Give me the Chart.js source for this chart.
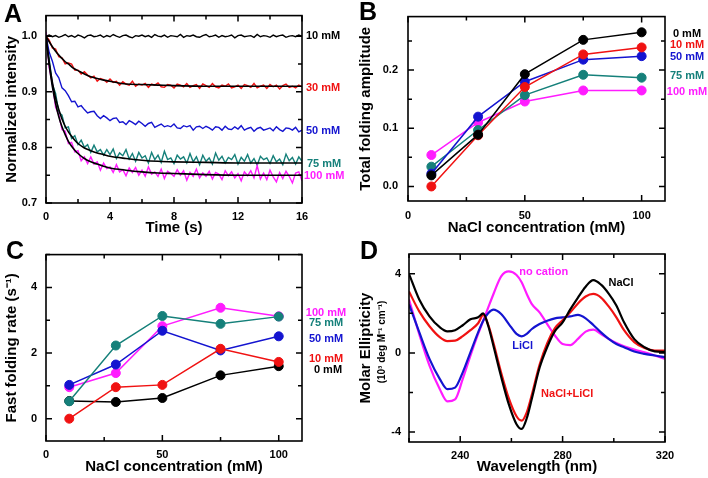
<!DOCTYPE html>
<html>
<head>
<meta charset="utf-8">
<script src="https://cdn.jsdelivr.net/npm/chart.js@4.4.1/dist/chart.umd.min.js"></script>
<style>
  body { margin: 0; background: #fff; }
  #wrap { position: relative; width: 708px; height: 478px; overflow: hidden; }
  canvas { position: absolute; }
</style>
</head>
<body>
<div id="wrap">
  <canvas id="chartA" width="354" height="239" style="left:0;top:0"></canvas>
  <canvas id="chartB" width="354" height="239" style="left:354px;top:0"></canvas>
  <canvas id="chartC" width="354" height="239" style="left:0;top:239px"></canvas>
  <canvas id="chartD" width="354" height="239" style="left:354px;top:239px"></canvas>
</div>
<script>
// ---- Panel A: stopped-flow traces (normalized intensity vs time) ----
const timeS = [0,0.2,0.4,0.6,0.8,1,1.2,1.4,1.6,1.8,2,2.2,2.4,2.6,2.8,3,3.2,3.4,3.6,3.8,
  4,4.2,4.4,4.6,4.8,5,5.2,5.4,5.6,5.8,6,6.2,6.4,6.6,6.8,7,7.2,7.4,7.6,7.8,
  8,8.2,8.4,8.6,8.8,9,9.2,9.4,9.6,9.8,10,10.2,10.4,10.6,10.8,11,11.2,11.4,11.6,11.8,
  12,12.2,12.4,12.6,12.8,13,13.2,13.4,13.6,13.8,14,14.2,14.4,14.6,14.8,15,15.2,15.4,15.6,15.8,16];
const trace10 = [1.000,1.002,0.999,1.001,0.998,1.000,1.003,0.999,1.001,0.998,
  1.002,1.000,0.997,1.001,1.002,0.999,1.000,1.002,0.998,1.001,
  0.999,1.003,1.000,0.998,1.001,1.002,0.999,0.997,1.001,1.000,
  1.002,0.999,1.001,0.998,1.003,1.000,0.999,1.002,0.998,1.001,
  1.000,0.999,1.003,0.998,1.001,1.000,1.002,0.999,0.998,1.001,
  1.003,0.999,1.000,1.002,0.998,1.001,0.999,1.000,1.002,0.997,
  1.001,1.002,0.999,1.000,1.001,0.998,1.003,0.999,1.001,1.000,
  0.998,1.002,0.999,1.001,1.002,0.998,1.000,1.001,0.999,1.002,1.000];
const trace30 = [1.000,0.993,0.979,0.977,0.963,0.961,0.950,0.952,0.950,0.939,
  0.939,0.932,0.936,0.930,0.925,0.928,0.919,0.924,0.922,0.917,
  0.923,0.917,0.919,0.912,0.918,0.914,0.912,0.919,0.910,0.914,
  0.912,0.915,0.908,0.914,0.912,0.916,0.909,0.908,0.913,0.912,
  0.907,0.914,0.912,0.909,0.915,0.908,0.911,0.913,0.906,0.914,
  0.911,0.908,0.915,0.909,0.907,0.912,0.910,0.914,0.907,0.909,
  0.912,0.906,0.913,0.911,0.908,0.915,0.907,0.910,0.912,0.906,
  0.913,0.909,0.912,0.905,0.911,0.914,0.908,0.910,0.907,0.912,0.909];
const trace50 = [1.000,0.971,0.955,0.934,0.925,0.907,0.902,0.893,0.882,0.883,
  0.873,0.875,0.868,0.862,0.864,0.865,0.857,0.852,0.857,0.853,
  0.848,0.852,0.853,0.845,0.846,0.841,0.848,0.845,0.841,0.847,
  0.843,0.838,0.843,0.845,0.836,0.839,0.842,0.837,0.839,0.837,
  0.842,0.835,0.834,0.839,0.837,0.839,0.831,0.837,0.838,0.834,
  0.838,0.835,0.831,0.837,0.836,0.831,0.838,0.833,0.832,0.837,
  0.833,0.839,0.831,0.834,0.836,0.829,0.834,0.836,0.831,0.833,
  0.835,0.830,0.837,0.832,0.829,0.835,0.834,0.831,0.836,0.828,0.831];
const trace75 = [1.000,0.959,0.913,0.897,0.863,0.858,0.835,0.837,0.816,0.821,
  0.805,0.813,0.800,0.805,0.791,0.804,0.792,0.796,0.786,0.796,
  0.787,0.797,0.780,0.790,0.785,0.796,0.779,0.789,0.775,0.791,
  0.781,0.785,0.772,0.791,0.778,0.786,0.773,0.793,0.778,0.781,
  0.771,0.786,0.779,0.783,0.772,0.789,0.774,0.783,0.769,0.786,
  0.775,0.781,0.770,0.790,0.777,0.784,0.772,0.782,0.778,0.787,
  0.770,0.782,0.775,0.787,0.772,0.780,0.768,0.784,0.778,0.781,
  0.771,0.785,0.774,0.779,0.769,0.788,0.776,0.782,0.770,0.783,0.775];
const trace100 = [1.008,0.943,0.914,0.872,0.859,0.832,0.829,0.807,0.809,0.792,
  0.794,0.776,0.783,0.771,0.783,0.770,0.774,0.759,0.772,0.762,
  0.765,0.755,0.769,0.756,0.760,0.749,0.763,0.755,0.764,0.750,
  0.759,0.748,0.765,0.752,0.756,0.748,0.761,0.744,0.757,0.753,
  0.748,0.760,0.750,0.758,0.741,0.755,0.748,0.761,0.745,0.754,
  0.748,0.757,0.743,0.755,0.752,0.742,0.758,0.749,0.756,0.745,
  0.753,0.740,0.756,0.749,0.758,0.745,0.767,0.743,0.754,0.742,
  0.759,0.747,0.738,0.755,0.744,0.757,0.748,0.736,0.754,0.756,0.740];
// fitted curves (black lines)
const fitTimeS = [0,0.2,0.4,0.6,0.8,1,1.2,1.4,1.6,1.8,2,2.4,2.8,3.2,3.6,4,5,6,7,8,10,12,14,16];
const fit30 = [1.000,0.990,0.981,0.973,0.966,0.960,0.954,0.950,0.945,0.941,0.938,0.932,0.927,0.924,0.921,0.919,0.914,0.913,0.912,0.911,0.910,0.910,0.910,0.910];
const fit75 = [1.000,0.953,0.917,0.889,0.868,0.851,0.838,0.828,0.820,0.813,0.807,0.799,0.794,0.790,0.787,0.784,0.780,0.777,0.775,0.774,0.773,0.772,0.772,0.772];
const fit100 = [1.000,0.949,0.909,0.879,0.855,0.837,0.823,0.811,0.802,0.795,0.789,0.780,0.774,0.770,0.766,0.763,0.759,0.756,0.754,0.753,0.751,0.750,0.750,0.750];
const traceLabels = ['10 mM', '30 mM', '50 mM', '75 mM', '100 mM'];

// ---- Panels B, C: vs NaCl concentration, one series per LiCl concentration ----
const naclMM = [10, 30, 50, 75, 100];
const liclLabels = ['0 mM', '10 mM', '50 mM', '75 mM', '100 mM'];
const amp0 = [0.019, 0.089, 0.193, 0.252, 0.265];
const amp10 = [0.000, 0.088, 0.171, 0.227, 0.239];
const amp50 = [0.022, 0.120, 0.180, 0.218, 0.224];
const amp75 = [0.034, 0.097, 0.157, 0.192, 0.187];
const amp100 = [0.054, 0.110, 0.146, 0.165, 0.165];
const rate0 = [0.54, 0.51, 0.63, 1.32, 1.60];
const rate10 = [0.00, 0.96, 1.03, 2.13, 1.73];
const rate50 = [1.03, 1.65, 2.68, 2.08, 2.51];
const rate75 = [0.53, 2.23, 3.13, 2.89, 3.11];
const rate100 = [0.96, 1.39, 2.82, 3.38, 3.12];

// ---- Panel D: CD spectra ----
const wavelengthNm = [220,224,228,232,235,238,241,244,247,249,251,253,256,259,262,264,266,268,271,274,277,280,283,286,289,292,295,298,301,304,308,312,316,320];
const cdNaCl = [4.0,2.7,1.85,1.3,1.09,1.15,1.4,1.7,1.8,2.0,1.35,0.35,-1.2,-2.6,-3.6,-3.84,-3.3,-2.3,-0.75,0.3,1.1,1.55,2.2,2.8,3.35,3.68,3.45,3.0,2.4,1.55,0.7,0.29,0.08,0.05];
const cdNaClLiCl = [3.1,2.1,1.35,0.8,0.6,0.62,0.85,1.15,1.5,1.92,1.4,0.5,-1.0,-2.3,-3.2,-3.42,-3.0,-2.1,-0.6,0.5,1.25,1.65,2.05,2.5,2.85,2.98,2.8,2.35,1.8,1.15,0.55,0.25,0.12,0.12];
const cdLiCl = [2.45,1.05,-0.3,-1.31,-1.83,-1.75,-0.98,0.03,1.04,1.63,2.02,2.19,1.97,1.46,0.96,0.84,0.96,1.21,1.46,1.63,1.75,1.8,1.85,1.92,1.75,1.41,1.04,0.71,0.45,0.29,0.07,-0.05,-0.13,-0.22];
const cdNoCation = [2.7,0.95,-0.64,-1.82,-2.45,-2.35,-1.31,-0.13,0.96,1.63,2.31,2.98,3.87,4.12,3.94,3.57,2.98,2.47,2.05,1.46,0.88,0.45,0.4,0.71,1.08,1.18,0.96,0.71,0.5,0.34,0.17,0.03,-0.13,-0.3];
const cdSeriesLabels = ['NaCl', 'NaCl+LiCl', 'LiCl', 'no cation'];
const cdUnitLabel = '(10³ deg M⁻¹ cm⁻¹)';

// ---- styling ----
const FONT = '"Liberation Sans", Arial, sans-serif';
const C = { black: '#000000', red: '#f01212', blue: '#1414d0', teal: '#15807a', magenta: '#ff1cff' };

const pts = (xs, ys) => xs.map((v, i) => ({ x: v, y: ys[i] }));

// frame, inward ticks on all sides, panel letter and text notes
function boxPlugin(cfg) {
  return {
    id: 'box' + cfg.letter,
    afterDatasetsDraw(chart) {
      const { ctx, chartArea: a, scales: { x, y } } = chart;
      ctx.save();
      ctx.strokeStyle = '#000';
      ctx.lineWidth = 1.5;
      ctx.beginPath();
      x.ticks.forEach(t => {
        const px = x.getPixelForValue(t.value);
        const len = t.label === '' ? 4 : 6;
        ctx.moveTo(px, a.bottom); ctx.lineTo(px, a.bottom - len);
        ctx.moveTo(px, a.top); ctx.lineTo(px, a.top + len);
      });
      y.ticks.forEach(t => {
        const py = y.getPixelForValue(t.value);
        const len = t.label === '' ? 4 : 6;
        ctx.moveTo(a.left, py); ctx.lineTo(a.left + len, py);
        ctx.moveTo(a.right, py); ctx.lineTo(a.right - len, py);
      });
      ctx.stroke();
      ctx.lineWidth = 1.6;
      ctx.strokeRect(a.left, a.top, a.right - a.left, a.bottom - a.top);

      ctx.fillStyle = '#000';
      ctx.font = 'bold 25px ' + FONT;
      ctx.textAlign = 'left';
      ctx.textBaseline = 'alphabetic';
      ctx.fillText(cfg.letter, cfg.letterAt[0], cfg.letterAt[1]);

      ctx.font = 'bold 11px ' + FONT;
      ctx.textBaseline = 'middle';
      cfg.notes.forEach(n => {
        ctx.fillStyle = n.color;
        ctx.textAlign = n.align || 'left';
        const px = n.dx !== undefined ? a.right + n.dx : x.getPixelForValue(n.x);
        ctx.fillText(n.text, px, y.getPixelForValue(n.y));
      });
      if (cfg.extra) cfg.extra(ctx, a);
      ctx.restore();
    }
  };
}

function axisOpts(o) {
  return {
    type: 'linear',
    min: o.min,
    max: o.max,
    afterFit: s => { if (o.width) s.width = o.width; if (o.height) s.height = o.height; },
    grid: { display: false, drawTicks: false },
    border: { display: false },
    ticks: {
      stepSize: o.step,
      includeBounds: false,
      autoSkip: false,
      maxRotation: 0,
      padding: o.pad,
      color: '#000',
      font: { family: FONT, size: 11, weight: 'bold' },
      callback: o.label
    },
    title: {
      display: true,
      text: o.title,
      color: '#000',
      font: { family: FONT, size: 15, weight: 'bold' },
      padding: o.titlePad
    }
  };
}

function baseOptions(o) {
  return {
    responsive: false,
    animation: false,
    events: [],
    layout: { padding: { left: 0, right: o.padRight, top: o.padTop, bottom: 0 } },
    plugins: { legend: { display: false }, tooltip: { enabled: false } },
    scales: { x: axisOpts(o.x), y: axisOpts(o.y) }
  };
}

const near = (v, m) => Math.abs(v / m - Math.round(v / m)) < 1e-6;

// ---- A ----
const fitLine = ys => ({ data: pts(fitTimeS, ys), borderColor: C.black, borderWidth: 1.6, order: 0, cubicInterpolationMode: 'monotone' });
const rawLine = (ys, color, order) => ({ data: pts(timeS, ys), borderColor: color, borderWidth: 1.4, order, tension: 0 });

new Chart(document.getElementById('chartA'), {
  type: 'line',
  data: {
    datasets: [
      fitLine(fit30),
      fitLine(fit75),
      fitLine(fit100),
      rawLine(trace10, C.black, 1),
      rawLine(trace30, C.red, 1),
      rawLine(trace50, C.blue, 1),
      rawLine(trace100, C.magenta, 1),
      rawLine(trace75, C.teal, 2)
    ].map(d => Object.assign({ pointRadius: 0, fill: false }, d))
  },
  options: baseOptions({
    padRight: 52, padTop: 12,
    x: { min: 0, max: 16, step: 2, height: 36, pad: 7, title: 'Time (s)', titlePad: { top: 0, bottom: 2 },
         label: v => near(v, 4) ? String(v) : '' },
    y: { min: 0.7, max: 1.037, step: 0.05, width: 46, pad: 9, title: 'Normalized intensity', titlePad: { top: 3, bottom: 0 },
         label: v => near(v, 0.1) ? v.toFixed(1) : '' }
  }),
  plugins: [boxPlugin({
    letter: 'A', letterAt: [4, 22],
    notes: [
      { text: traceLabels[0], color: C.black, dx: 4, y: 1.0 },
      { text: traceLabels[1], color: C.red, dx: 4, y: 0.907 },
      { text: traceLabels[2], color: C.blue, dx: 4, y: 0.829 },
      { text: traceLabels[3], color: C.teal, dx: 5, y: 0.771 },
      { text: traceLabels[4], color: C.magenta, dx: 2, y: 0.749 }
    ]
  })]
});

// ---- B ----
const dotSet = (ys, color, order) => ({
  data: pts(naclMM, ys), borderColor: color, backgroundColor: color,
  pointBackgroundColor: color, pointBorderColor: color, pointRadius: 4.5, pointBorderWidth: 1,
  borderWidth: 1.5, fill: false, order
});

new Chart(document.getElementById('chartB'), {
  type: 'line',
  data: {
    datasets: [
      dotSet(amp0, C.black, 0),
      dotSet(amp10, C.red, 1),
      dotSet(amp50, C.blue, 2),
      dotSet(amp75, C.teal, 3),
      dotSet(amp100, C.magenta, 4)
    ]
  },
  options: baseOptions({
    padRight: 43, padTop: 15,
    x: { min: 0, max: 110, step: 25, height: 38, pad: 8, title: 'NaCl concentration (mM)', titlePad: { top: 0, bottom: 2 },
         label: v => near(v, 50) ? String(v) : '' },
    y: { min: -0.025, max: 0.292, step: 0.05, width: 54, pad: 10, title: 'Total folding amplitude', titlePad: { top: 3, bottom: 0 },
         label: v => near(v, 0.1) ? Math.abs(v).toFixed(1) : '' }
  }),
  plugins: [boxPlugin({
    letter: 'B', letterAt: [5, 20],
    notes: [
      { text: liclLabels[0], color: C.black, dx: 22, align: 'center', y: 0.262 },
      { text: liclLabels[1], color: C.red, dx: 22, align: 'center', y: 0.244 },
      { text: liclLabels[2], color: C.blue, dx: 22, align: 'center', y: 0.222 },
      { text: liclLabels[3], color: C.teal, dx: 22, align: 'center', y: 0.190 },
      { text: liclLabels[4], color: C.magenta, dx: 22, align: 'center', y: 0.163 }
    ]
  })]
});

// ---- C ----
new Chart(document.getElementById('chartC'), {
  type: 'line',
  data: {
    datasets: [
      dotSet(rate10, C.red, 0),
      dotSet(rate75, C.teal, 1),
      dotSet(rate50, C.blue, 2),
      dotSet(rate100, C.magenta, 3),
      dotSet(rate0, C.black, 4)
    ]
  },
  options: baseOptions({
    padRight: 52, padTop: 15,
    x: { min: 0, max: 110, step: 25, height: 37, pad: 7, title: 'NaCl concentration (mM)', titlePad: { top: 0, bottom: 2 },
         label: v => near(v, 50) ? String(v) : '' },
    y: { min: -0.68, max: 5, step: 1, width: 46, pad: 9, title: 'Fast folding rate (s⁻¹)', titlePad: { top: 3, bottom: 0 },
         label: v => near(v, 2) ? String(v) : '' }
  }),
  plugins: [boxPlugin({
    letter: 'C', letterAt: [6, 20],
    notes: [
      { text: liclLabels[4], color: C.magenta, dx: 24, align: 'center', y: 3.23 },
      { text: liclLabels[3], color: C.teal, dx: 24, align: 'center', y: 2.91 },
      { text: liclLabels[2], color: C.blue, dx: 24, align: 'center', y: 2.43 },
      { text: liclLabels[1], color: C.red, dx: 24, align: 'center', y: 1.82 },
      { text: liclLabels[0], color: C.black, dx: 26, align: 'center', y: 1.49 }
    ]
  })]
});

// ---- D ----
new Chart(document.getElementById('chartD'), {
  type: 'line',
  data: {
    datasets: [
      { data: pts(wavelengthNm, cdNaCl), borderColor: C.black, order: 0 },
      { data: pts(wavelengthNm, cdNaClLiCl), borderColor: C.red, order: 1 },
      { data: pts(wavelengthNm, cdLiCl), borderColor: C.blue, order: 2 },
      { data: pts(wavelengthNm, cdNoCation), borderColor: C.magenta, order: 3 }
    ].map(d => Object.assign({ pointRadius: 0, borderWidth: 2.2, fill: false, cubicInterpolationMode: 'monotone' }, d))
  },
  options: baseOptions({
    padRight: 43, padTop: 15,
    x: { min: 220, max: 320, step: 20, height: 36, pad: 7, title: 'Wavelength (nm)', titlePad: { top: 0, bottom: 2 },
         label: v => near(v - 240, 40) ? String(v) : '' },
    y: { min: -4.5, max: 5, step: 2, width: 55, pad: 8, title: 'Molar Ellipticity', titlePad: { top: 3, bottom: 0 },
         label: v => near(v, 4) ? String(v) : '' }
  }),
  plugins: [boxPlugin({
    letter: 'D', letterAt: [6, 20],
    notes: [
      { text: cdSeriesLabels[3], color: C.magenta, x: 272.6, y: 4.09, align: 'center' },
      { text: cdSeriesLabels[0], color: C.black, x: 302.8, y: 3.54, align: 'center' },
      { text: cdSeriesLabels[2], color: C.blue, x: 264.4, y: 0.35, align: 'center' },
      { text: cdSeriesLabels[1], color: C.red, x: 281.8, y: -2.07, align: 'center' }
    ],
    extra(ctx, a) {
      ctx.save();
      ctx.translate(28, (a.top + a.bottom) / 2 - 6);
      ctx.rotate(-Math.PI / 2);
      ctx.fillStyle = '#000';
      ctx.font = 'bold 10px ' + FONT;
      ctx.textAlign = 'center';
      ctx.textBaseline = 'middle';
      ctx.fillText(cdUnitLabel, 0, 0);
      ctx.restore();
    }
  })]
});
</script>
</body>
</html>
